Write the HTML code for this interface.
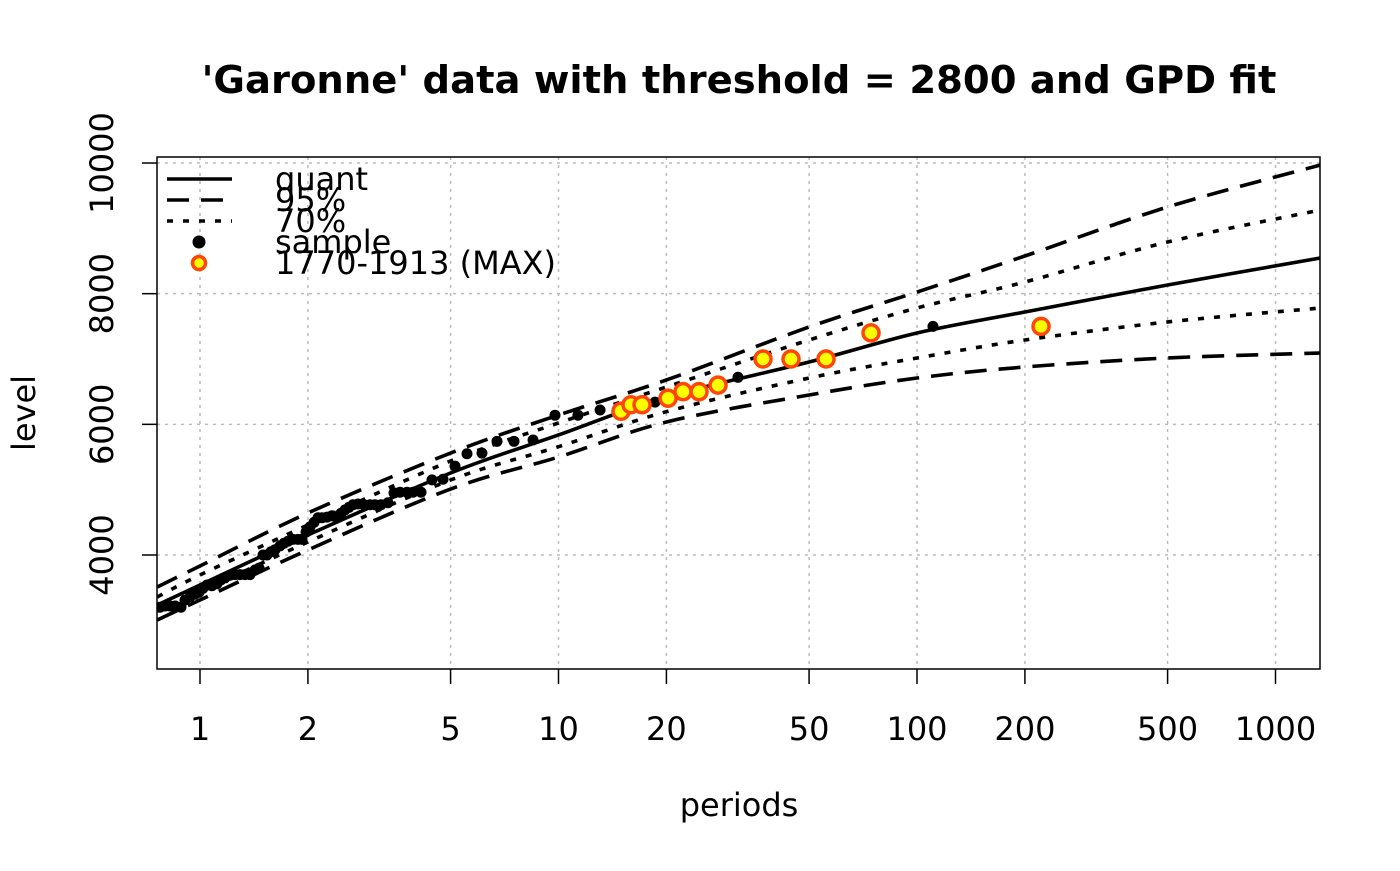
<!DOCTYPE html>
<html><head><meta charset="utf-8"><style>
html,body{margin:0;padding:0;background:#fff;}
svg text{font-family:"DejaVu Sans","Liberation Sans",sans-serif;}
</style></head><body>
<svg id="chart" width="1400" height="866" viewBox="0 0 1400 866" xmlns="http://www.w3.org/2000/svg">
<text x="739" y="93" text-anchor="middle" font-size="38.5" font-weight="bold">'Garonne' data with threshold = 2800 and GPD fit</text>
<text x="739" y="816" text-anchor="middle" font-size="32">periods</text>
<text transform="translate(35,413) rotate(-90)" text-anchor="middle" font-size="32">level</text>
<g id="grid"></g>
<g id="axes"></g>
<g id="series"></g>
<rect x="157" y="157" width="1163" height="512" fill="none" stroke="#000" stroke-width="1.5"/>
<g>
<line x1="167" y1="179" x2="232" y2="179" stroke="#000" stroke-width="3.6"/>
<text x="275" y="190" font-size="32">quant</text>
<line x1="167" y1="200" x2="232" y2="200" stroke="#000" stroke-width="3.6" stroke-dasharray="22,12"/>
<text x="275" y="211" font-size="32">95%</text>
<line x1="167" y1="221" x2="232" y2="221" stroke="#000" stroke-width="3.6" stroke-dasharray="6,10"/>
<text x="275" y="232" font-size="32">70%</text>
<circle cx="199" cy="242" r="6.5" fill="#000"/>
<text x="275" y="253" font-size="32">sample</text>
<circle cx="199" cy="263" r="6.5" fill="#ffff00" stroke="#ff4500" stroke-width="3.5"/>
<text x="275" y="274" font-size="32">1770-1913 (MAX)</text>
</g>
</svg>
<script>
const xTicks=[1,2,5,10,20,50,100,200,500,1000];
const yTicks=[4000,6000,8000,10000];
const curvePeriods=[0.76,1,2,5,10,20,50,100,200,500,1335];
const quantLevels=[3235,3541,4306,5255,5837,6419,6954,7398,7720,8133,8546];
const upper95=[3510,3832,4643,5561,6143,6679,7490,8025,8577,9327,9970];
const upper70=[3357,3694,4459,5439,6021,6572,7291,7781,8179,8791,9281];
const lower70=[3143,3434,4199,5148,5658,6194,6709,7015,7291,7567,7781];
const lower95=[3005,3311,4077,5010,5500,6036,6449,6709,6878,7016,7092];
const samplePeriods=[0.773,0.799,0.825,0.852,0.885,0.908,0.938,0.968,0.994,1.019,1.046,1.080,1.115,1.144,1.174,1.212,1.252,1.293,1.335,1.379,1.424,1.461,1.499,1.538,1.578,1.619,1.672,1.715,1.760,1.817,1.877,1.925,1.976,2.027,2.080,2.134,2.190,2.262,2.334,2.395,2.474,2.538,2.604,2.673,2.759,2.868,2.981,3.077,3.198,3.345,3.476,3.614,3.780,3.928,4.136,4.437,4.763,5.144,5.556,6.117,6.737,7.514,8.491,9.777,11.33,13.06,18.59,31.67,110.8];
const sampleLevels=[3200,3220,3220,3220,3200,3310,3360,3400,3430,3490,3540,3530,3560,3620,3650,3690,3700,3700,3700,3700,3770,3800,4000,4000,4050,4080,4140,4180,4210,4240,4240,4240,4350,4430,4500,4570,4570,4580,4600,4580,4640,4690,4730,4770,4780,4770,4770,4770,4770,4800,4950,4960,4960,4960,4960,5150,5160,5360,5550,5560,5740,5740,5760,6140,6140,6220,6340,6720,7500];
const maxPeriods=[14.94,15.93,17.10,20.21,22.25,24.66,27.86,37.19,44.52,55.75,74.42,221.8];
const maxLevels=[6200,6300,6300,6400,6500,6500,6600,7000,7000,7000,7400,7500];

const NS="http://www.w3.org/2000/svg";
const X0=200, DEC=358.5, Y0=555, K=0.06533;
function xs(p){return X0+Math.log10(p)*DEC;}
function ys(v){return Y0-(v-4000)*K;}
function mk(tag,attrs,parent){const e=document.createElementNS(NS,tag);for(const k in attrs)e.setAttribute(k,attrs[k]);parent.appendChild(e);return e;}
const grid=document.getElementById('grid'),axes=document.getElementById('axes'),series=document.getElementById('series');
xTicks.forEach(t=>{const x=xs(t);
 const g=mk('line',{x1:x,y1:157,x2:x,y2:669,stroke:'#bbb','stroke-width':1.5,'stroke-dasharray':'3,5'},grid);
 
 
 const tk=mk('line',{x1:x,y1:669,x2:x,y2:684,stroke:'#000','stroke-width':1.5},axes);
 
 
 const lb=mk('text',{x:x,y:740,'text-anchor':'middle','font-size':32},axes);lb.textContent=t;
 
 
});
yTicks.forEach(t=>{const y=ys(t);
 const g=mk('line',{x1:157,y1:y,x2:1320,y2:y,stroke:'#bbb','stroke-width':1.5,'stroke-dasharray':'3,5'},grid);
 
 
 const tk=mk('line',{x1:142,y1:y,x2:157,y2:y,stroke:'#000','stroke-width':1.5},axes);
 
 
 const lb=mk('text',{transform:`translate(113,${y}) rotate(-90)`,'text-anchor':'middle','font-size':32},axes);lb.textContent=t;
 
 
});
function smoothPath(ps,vs){
 const pts=ps.map((p,i)=>[xs(p),ys(vs[i])]);
 let d=`M${pts[0][0]},${pts[0][1]}`;
 for(let i=0;i<pts.length-1;i++){
  const p0=pts[Math.max(0,i-1)],p1=pts[i],p2=pts[i+1],p3=pts[Math.min(pts.length-1,i+2)];
  const c1=[p1[0]+(p2[0]-p0[0])/6,p1[1]+(p2[1]-p0[1])/6],c2=[p2[0]-(p3[0]-p1[0])/6,p2[1]-(p3[1]-p1[1])/6];
  d+=` C${c1[0]},${c1[1]} ${c2[0]},${c2[1]} ${p2[0]},${p2[1]}`;
 }
 return d;
}
const clip=mk('clipPath',{id:'pc'},mk('defs',{},document.getElementById('chart')));
mk('rect',{x:157,y:157,width:1163,height:512},clip);
series.setAttribute('clip-path','url(#pc)');
[[upper95,'22,12','upper-95-ci'],[lower95,'22,12','lower-95-ci'],[upper70,'6,10','upper-70-ci'],[lower70,'6,10','lower-70-ci'],[quantLevels,'','quantile-curve']].forEach(([vals,dash,name])=>{
 const p=mk('path',{d:smoothPath(curvePeriods,vals),fill:'none',stroke:'#000','stroke-width':3.6},series);
 if(dash)p.setAttribute('stroke-dasharray',dash);
 
 
});
samplePeriods.forEach((p,i)=>{
 const c=mk('circle',{cx:xs(p),cy:ys(sampleLevels[i]),r:5.5,fill:'#000'},series);
 
 
});
maxPeriods.forEach((p,i)=>{
 const c=mk('circle',{cx:xs(p),cy:ys(maxLevels[i]),r:8,fill:'#ffff00',stroke:'#ff4500','stroke-width':3.5},series);
 
 
});
</script>
</body></html>
